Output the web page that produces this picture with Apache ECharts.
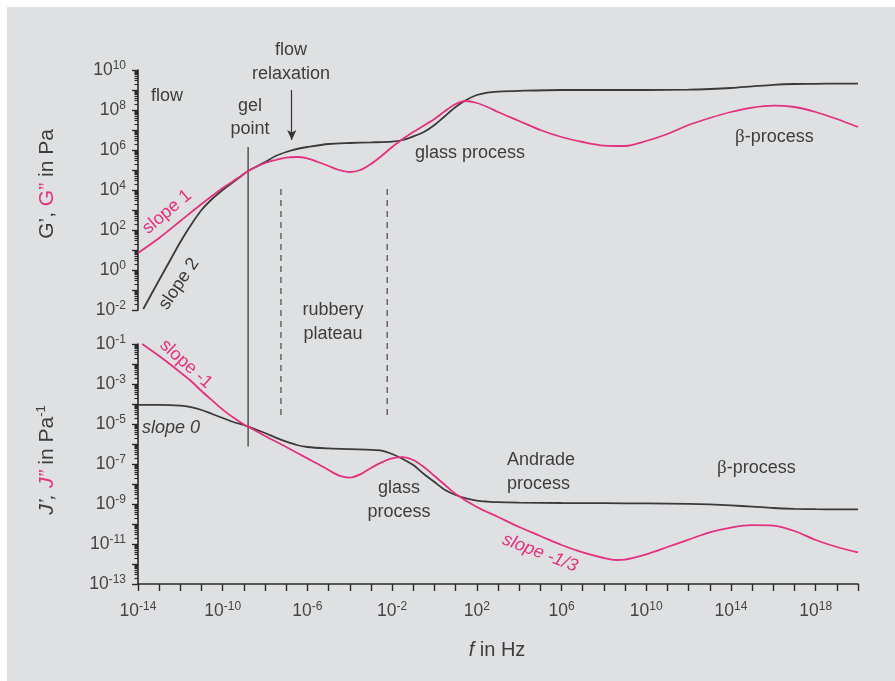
<!DOCTYPE html>
<html>
<head>
<meta charset="utf-8">
<script src="https://cdn.jsdelivr.net/npm/echarts@6/dist/echarts.min.js"></script>
<style>
  html, body { margin: 0; padding: 0; background: #fff; }
  #chart { position: absolute; left: 0; top: 0; width: 895px; height: 681px; }
  .edge { position: absolute; background: #fff; z-index: 5; }
</style>
</head>
<body>
<div id="chart"></div>
<div class="edge" style="left:0;top:0;width:895px;height:7px"></div>
<div class="edge" style="left:0;top:0;width:7px;height:681px"></div>
<script>
// all values are log10 of the plotted quantity (both axes are logarithmic)

// G' (black) and G'' (pink), top panel
const gStoreF = [-13.75, -13, -12.5, -12, -11.5, -11, -10.5, -10, -9.5, -9, -8.8, -8, -7.5, -7, -6.5, -6, -5, -4, -3, -2, -1.5, -1, -0.5, 0, 0.5, 1, 1.5, 2, 2.5, 3, 4, 6, 8, 10, 12, 13, 14, 15, 16, 17, 18, 19, 20]
const gStore = [-1.95, -0.5, 0.45, 1.4, 2.25, 3.0, 3.55, 4.0, 4.4, 4.8, 4.95, 5.4, 5.7, 5.9, 6.05, 6.15, 6.3, 6.35, 6.38, 6.42, 6.5, 6.68, 6.9, 7.25, 7.7, 8.15, 8.5, 8.75, 8.87, 8.92, 8.96, 9.0, 9.0, 9.0, 9.02, 9.05, 9.1, 9.18, 9.26, 9.3, 9.31, 9.32, 9.32]

const gLossF = [-14, -13, -12, -11, -10, -9.5, -9, -8.8, -8, -7.5, -7, -6.5, -6, -5.5, -5, -4.5, -4, -3.5, -3, -2.5, -2, -1.5, -1, 0, 0.5, 1, 1.5, 2, 2.5, 3, 4, 5, 6, 7, 8, 9, 10, 11, 12, 13, 14, 15, 16, 17, 18, 19, 20]
const gLoss = [0.85, 1.6, 2.45, 3.3, 4.1, 4.45, 4.8, 4.95, 5.35, 5.5, 5.62, 5.65, 5.58, 5.4, 5.2, 5.0, 4.9, 5.0, 5.3, 5.7, 6.15, 6.55, 6.9, 7.55, 7.95, 8.3, 8.45, 8.35, 8.15, 7.9, 7.45, 7.0, 6.65, 6.4, 6.22, 6.2, 6.45, 6.8, 7.25, 7.6, 7.9, 8.12, 8.22, 8.15, 7.9, 7.55, 7.15]

// J' (black) and J'' (pink), bottom panel
const jStoreF = [-14, -13, -12, -11.5, -11, -10.5, -10, -9.5, -9, -8.8, -8, -7.5, -7, -6.5, -6, -5, -4, -3, -2.5, -2, -1.5, -1, -0.5, 0, 0.5, 1, 1.5, 2, 2.5, 3, 4, 6, 8, 10, 12, 13, 14, 15, 16, 17, 18, 19, 20]
const jStore = [-4.04, -4.04, -4.08, -4.16, -4.3, -4.5, -4.7, -4.9, -5.05, -5.13, -5.45, -5.68, -5.88, -6.05, -6.15, -6.22, -6.26, -6.29, -6.33, -6.5, -6.75, -7.05, -7.5, -7.9, -8.3, -8.55, -8.72, -8.83, -8.88, -8.91, -8.93, -8.95, -8.96, -8.97, -8.99, -9.02, -9.07, -9.13, -9.2, -9.24, -9.26, -9.27, -9.27]

const jLossF = [-13.8, -13, -12.5, -12, -11.5, -11, -10.5, -10, -9.5, -9, -8.8, -8, -7, -6, -5.5, -5, -4.5, -4, -3.5, -3, -2.5, -2, -1.5, -1, -0.5, 0, 0.5, 1, 2, 3, 4, 5, 6, 7, 8, 8.6, 9, 10, 11, 12, 13, 14, 15, 16, 17, 18, 19, 20]
const jLoss = [-1.0, -1.6, -2.0, -2.42, -2.85, -3.35, -3.82, -4.28, -4.68, -5.02, -5.13, -5.6, -6.15, -6.72, -7.0, -7.3, -7.58, -7.68, -7.52, -7.2, -6.92, -6.72, -6.66, -6.8, -7.15, -7.6, -8.05, -8.5, -9.15, -9.65, -10.15, -10.6, -11.05, -11.42, -11.7, -11.8, -11.78, -11.52, -11.15, -10.78, -10.42, -10.18, -10.06, -10.08, -10.35, -10.8, -11.15, -11.42]

// axis ranges (decades)
const fRange = [-14, 20]
const gRange = [-2, 10]
const jRange = [-13, -1]

// vertical guide lines: [log f, top (log G), bottom (log J)]
const gelLine = [-8.8, 6.15, -6.13]
const rubberyLines = [[-7.25, 4.05, -4.64], [-2.23, 4.05, -4.64]]
// flow relaxation arrow: [log f, from log G, to log G]
const relaxArrow = [-6.74, 9.0, 6.5]

const PINK = '#e3307f'
const DARK = '#3a3a3a'
const TXT = '#3d3d3d'
const FONT = '"Liberation Sans", Arial, sans-serif'

function pairs(xs, ys) {
    return xs.map((x, i) => [x, ys[i]])
}

function minorTicks(range) {
    let out = []
    for (let d = range[0]; d < range[1]; d++) {
        for (let k = 2; k <= 9; k++) out.push(d + Math.log10(k))
    }
    return out
}

function powLabel(v) {
    const e = Math.round(v)
    return '{b|10}{s|' + (e < 0 ? '-' + (-e) : e) + '}'
}

const labelRich = {
    b: { fontSize: 17.5, lineHeight: 21, color: '#444', fontFamily: FONT },
    s: { fontSize: 12, lineHeight: 12, verticalAlign: 'top', color: '#444', fontFamily: FONT }
}

function mainY(grid, range, showEven) {
    return {
        type: 'value', gridIndex: grid, min: range[0], max: range[1], interval: 1, position: 'left',
        axisLine: { show: true, onZero: false, lineStyle: { color: '#2a2a2a', width: 1.6 } },
        axisTick: { show: true, length: 6, lineStyle: { color: '#2a2a2a', width: 1.4 } },
        splitLine: { show: false },
        axisLabel: {
            margin: 12,
            formatter: v => (Math.abs(Math.round(v)) % 2 === (showEven ? 0 : 1)) ? powLabel(v) : '',
            rich: labelRich
        }
    }
}

function minorY(grid, range) {
    return {
        type: 'value', gridIndex: grid, min: range[0], max: range[1], position: 'left',
        axisLine: { show: false, onZero: false },
        axisLabel: { show: false },
        splitLine: { show: false },
        axisTick: { show: true, length: 3.5, customValues: minorTicks(range), lineStyle: { color: '#2a2a2a', width: 1.2 } }
    }
}

function curve(name, xs, ys, color, xi, yi) {
    return {
        name: name, type: 'line', xAxisIndex: xi, yAxisIndex: yi,
        data: pairs(xs, ys), showSymbol: false, smooth: 0.3,
        lineStyle: { color: color, width: 1.8 }, z: 3
    }
}

const chart = echarts.init(document.getElementById('chart'))

const gStoreSeries = curve("G'", gStoreF, gStore, DARK, 0, 0)
gStoreSeries.markLine = {
    silent: true, animation: false,
    symbol: ['none', 'arrow'], symbolSize: [7, 10],
    label: { show: false },
    lineStyle: { color: '#333', width: 1.2, type: 'solid' },
    data: [[{ coord: [relaxArrow[0], relaxArrow[1]] }, { coord: [relaxArrow[0], relaxArrow[2]] }]]
}

chart.setOption({
    backgroundColor: '#dfe0e2',
    animation: false,
    grid: [
        { left: 138, right: 37, top: 70, height: 240 },
        { left: 138, right: 37, top: 344, height: 240 }
    ],
    xAxis: [
        { type: 'value', gridIndex: 0, min: fRange[0], max: fRange[1], show: false, axisLine: { onZero: false } },
        {
            type: 'value', gridIndex: 1, min: fRange[0], max: fRange[1], interval: 1, position: 'bottom',
            axisLine: { show: true, onZero: false, lineStyle: { color: '#2a2a2a', width: 1.6 } },
            axisTick: { show: true, length: 7, lineStyle: { color: '#2a2a2a', width: 1.4 } },
            splitLine: { show: false },
            axisLabel: {
                margin: 17,
                formatter: v => ((Math.round(v) - fRange[0]) % 4 === 0) ? powLabel(v) : '',
                rich: labelRich
            }
        }
    ],
    yAxis: [
        mainY(0, gRange, true),
        mainY(1, jRange, false),
        minorY(0, gRange),
        minorY(1, jRange)
    ],
    series: [
        gStoreSeries,
        curve("G''", gLossF, gLoss, PINK, 0, 0),
        curve("J'", jStoreF, jStore, DARK, 1, 1),
        curve("J''", jLossF, jLoss, PINK, 1, 1)
    ]
})

// guide lines through both panels, placed with the axes' own scales
function vline(spec, dashed) {
    const a = chart.convertToPixel({ xAxisIndex: 0, yAxisIndex: 0 }, [spec[0], spec[1]])
    const b = chart.convertToPixel({ xAxisIndex: 1, yAxisIndex: 1 }, [spec[0], spec[2]])
    return {
        type: 'line', z: 1, silent: true,
        shape: { x1: a[0], y1: a[1], x2: b[0], y2: b[1] },
        style: { stroke: dashed ? '#666' : '#555', lineWidth: 1.5, lineDash: dashed ? [6, 5] : null }
    }
}

function label(text, x, y, opts) {
    opts = opts || {}
    return {
        type: 'text', x: x, y: y, z: 10, silent: true, rotation: opts.rotation || 0,
        style: {
            text: text, fill: opts.color || TXT,
            fontSize: opts.size || 18, fontFamily: FONT, fontStyle: opts.italic ? 'italic' : 'normal',
            align: opts.align || 'center', verticalAlign: 'middle',
            lineHeight: opts.lineHeight || 24, rich: opts.rich
        }
    }
}

const betaRich = {
    g: { fontSize: 19, fontFamily: '"Liberation Serif", serif', fill: TXT },
    t: { fontSize: 18, fontFamily: FONT, fill: TXT }
}

const deg = Math.PI / 180

chart.setOption({
    graphic: [
        vline(gelLine, false),
        vline(rubberyLines[0], true),
        vline(rubberyLines[1], true),

        label('flow', 151, 96, { align: 'left' }),
        label('gel\npoint', 250, 118, { lineHeight: 23 }),
        label('flow\nrelaxation', 291, 62),
        label('glass process', 415, 153, { align: 'left' }),
        label('{g|β}{t|-process}', 735, 137, { align: 'left', rich: betaRich }),
        label('rubbery\nplateau', 333, 322),
        label('slope 0', 142, 428, { align: 'left', italic: true }),
        label('glass\nprocess', 399, 500),
        label('Andrade\nprocess', 507, 472, { align: 'left' }),
        label('{g|β}{t|-process}', 717, 468, { align: 'left', rich: betaRich }),

        label('slope 1', 167, 212, { color: PINK, rotation: 40 * deg }),
        label('slope 2', 179, 284, { color: DARK, rotation: 56 * deg }),
        label('slope -1', 186, 364, { color: PINK, rotation: -42 * deg }),
        label('slope -1/3', 540, 553, { color: PINK, italic: true, rotation: -21 * deg }),

        // axis titles
        label('{n|G’, }{p|G”}{n| in Pa}', 47, 184, {
            rotation: 90 * deg,
            rich: {
                n: { fontSize: 21, fontFamily: FONT, fill: TXT },
                p: { fontSize: 21, fontFamily: FONT, fill: PINK }
            }
        }),
        label('{i|J’, }{p|J”}{n| in Pa}{s|-1}', 47, 460, {
            rotation: 90 * deg,
            rich: {
                i: { fontSize: 21, fontFamily: FONT, fontStyle: 'italic', fill: TXT },
                p: { fontSize: 21, fontFamily: FONT, fontStyle: 'italic', fill: PINK },
                n: { fontSize: 21, lineHeight: 25, fontFamily: FONT, fill: TXT },
                s: { fontSize: 13, lineHeight: 14, verticalAlign: 'top', fontFamily: FONT, fill: TXT }
            }
        }),
        label('{i|f}{n| in Hz}', 497, 650, {
            rich: {
                i: { fontSize: 20, fontFamily: FONT, fontStyle: 'italic', fill: TXT },
                n: { fontSize: 20, fontFamily: FONT, fill: TXT }
            }
        })
    ]
})
</script>
</body>
</html>
